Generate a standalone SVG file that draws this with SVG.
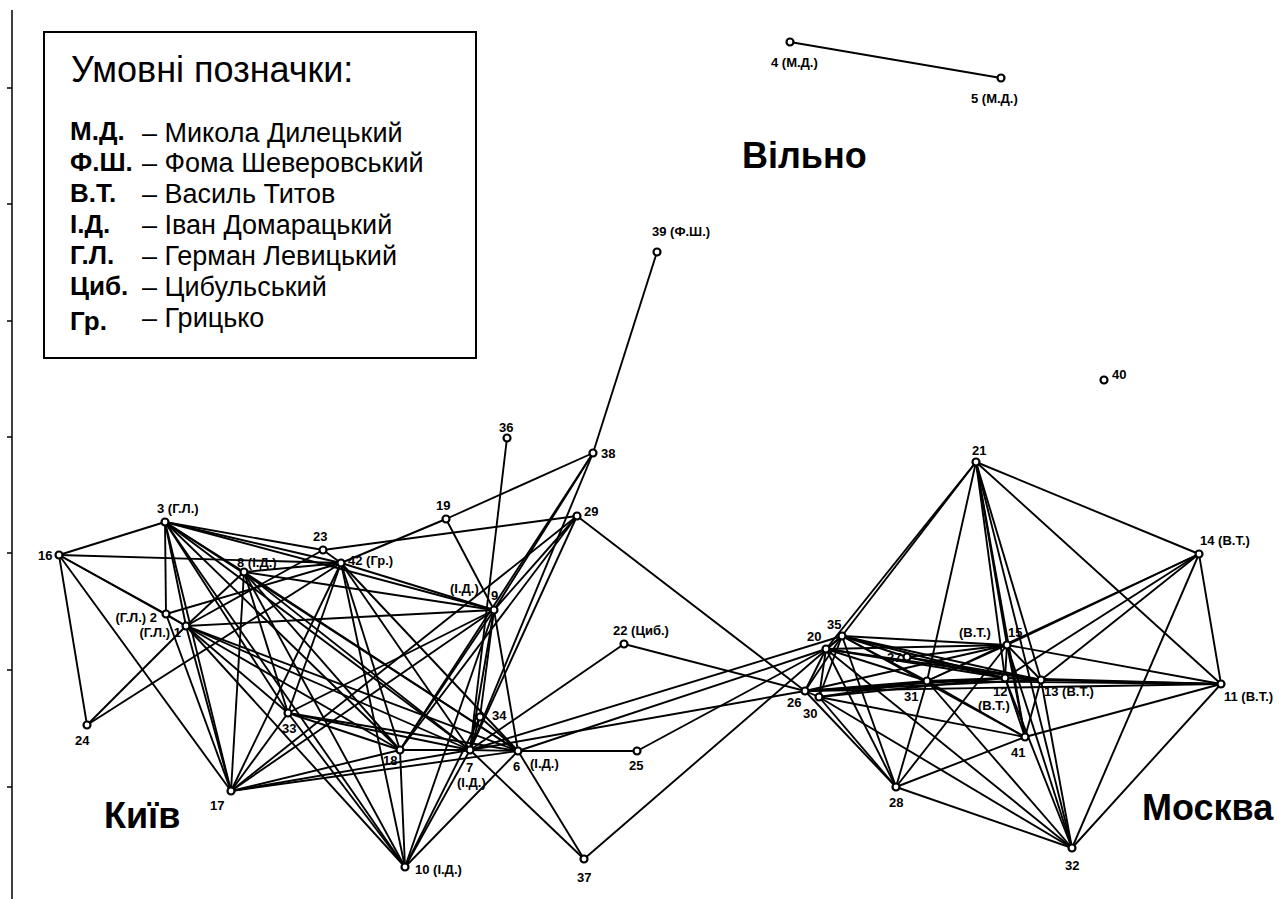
<svg xmlns="http://www.w3.org/2000/svg" width="1279" height="899" viewBox="0 0 1279 899">
<style>
.e line{stroke:#000;stroke-width:1.9;fill:none}
.n{fill:#fff;stroke:#000;stroke-width:2.2}
.l{font-family:"Liberation Sans",Arial,sans-serif;font-weight:bold;font-size:13px;fill:#000}
.city{font-family:"Liberation Sans",Arial,sans-serif;font-weight:bold;font-size:36px;fill:#000}
.lt{font-family:"Liberation Sans",Arial,sans-serif;font-size:27px;fill:#000}
.lb{font-family:"Liberation Sans",Arial,sans-serif;font-size:26px;font-weight:bold;fill:#000}
.ax{stroke:#000;stroke-width:1.5}
</style>
<rect width="1279" height="899" fill="#fff"/>
<g id="axis">
<line class="ax" x1="12" y1="10" x2="12" y2="899"/>
<line class="ax" x1="7" y1="88" x2="12" y2="88"/>
<line class="ax" x1="7" y1="204" x2="12" y2="204"/>
<line class="ax" x1="7" y1="321" x2="12" y2="321"/>
<line class="ax" x1="7" y1="437" x2="12" y2="437"/>
<line class="ax" x1="7" y1="553" x2="12" y2="553"/>
<line class="ax" x1="7" y1="670" x2="12" y2="670"/>
<line class="ax" x1="7" y1="787" x2="12" y2="787"/>
</g>
<g id="legend">
<rect x="44" y="32" width="432" height="326" fill="#fff" stroke="#000" stroke-width="2"/>
<text x="71" y="82" style="font-family:'Liberation Sans',Arial,sans-serif;font-size:36px">Умовні позначки:</text>
<text class="lb" x="70" y="140">М.Д.</text><text class="lt" x="142" y="142">– Микола Дилецький</text>
<text class="lb" x="70" y="171">Ф.Ш.</text><text class="lt" x="142" y="172">– Фома Шеверовський</text>
<text class="lb" x="70" y="202">В.Т.</text><text class="lt" x="142" y="203">– Василь Титов</text>
<text class="lb" x="70" y="233">І.Д.</text><text class="lt" x="142" y="234">– Іван Домарацький</text>
<text class="lb" x="70" y="264">Г.Л.</text><text class="lt" x="142" y="265">– Герман Левицький</text>
<text class="lb" x="70" y="295">Циб.</text><text class="lt" x="142" y="296">– Цибульський</text>
<text class="lb" x="70" y="330">Гр.</text><text class="lt" x="142" y="327">– Грицько</text>
</g>
<g id="cities">
<text class="city" x="742" y="168">Вільно</text>
<text class="city" x="104" y="828">Київ</text>
<text class="city" x="1142" y="820">Москва</text>
</g>
<g id="connectors" class="e">
<line x1="59" y1="555" x2="165" y2="522"/>
<line x1="59" y1="555" x2="341" y2="563"/>
<line x1="59" y1="555" x2="166" y2="614"/>
<line x1="59" y1="555" x2="186" y2="626"/>
<line x1="59" y1="555" x2="231" y2="791"/>
<line x1="59" y1="555" x2="87" y2="725"/>
<line x1="87" y1="725" x2="186" y2="626"/>
<line x1="87" y1="725" x2="341" y2="563"/>
<line x1="165" y1="522" x2="166" y2="614"/>
<line x1="165" y1="522" x2="323" y2="550"/>
<line x1="165" y1="522" x2="341" y2="563"/>
<line x1="165" y1="522" x2="494" y2="610"/>
<line x1="165" y1="522" x2="244" y2="572"/>
<line x1="165" y1="522" x2="186" y2="626"/>
<line x1="165" y1="522" x2="231" y2="791"/>
<line x1="165" y1="522" x2="288" y2="713"/>
<line x1="165" y1="522" x2="400" y2="750"/>
<line x1="165" y1="522" x2="470" y2="750"/>
<line x1="165" y1="522" x2="518" y2="751"/>
<line x1="165" y1="522" x2="405" y2="867"/>
<line x1="166" y1="614" x2="341" y2="563"/>
<line x1="166" y1="614" x2="231" y2="791"/>
<line x1="166" y1="614" x2="186" y2="626"/>
<line x1="186" y1="626" x2="494" y2="610"/>
<line x1="186" y1="626" x2="244" y2="572"/>
<line x1="186" y1="626" x2="323" y2="550"/>
<line x1="186" y1="626" x2="231" y2="791"/>
<line x1="186" y1="626" x2="288" y2="713"/>
<line x1="186" y1="626" x2="400" y2="750"/>
<line x1="186" y1="626" x2="470" y2="750"/>
<line x1="186" y1="626" x2="518" y2="751"/>
<line x1="186" y1="626" x2="405" y2="867"/>
<line x1="244" y1="572" x2="231" y2="791"/>
<line x1="244" y1="572" x2="288" y2="713"/>
<line x1="244" y1="572" x2="400" y2="750"/>
<line x1="244" y1="572" x2="470" y2="750"/>
<line x1="244" y1="572" x2="405" y2="867"/>
<line x1="244" y1="572" x2="518" y2="751"/>
<line x1="244" y1="572" x2="341" y2="563"/>
<line x1="244" y1="572" x2="494" y2="610"/>
<line x1="323" y1="550" x2="341" y2="563"/>
<line x1="323" y1="550" x2="577" y2="516"/>
<line x1="341" y1="563" x2="446" y2="519"/>
<line x1="341" y1="563" x2="494" y2="610"/>
<line x1="341" y1="563" x2="288" y2="713"/>
<line x1="341" y1="563" x2="231" y2="791"/>
<line x1="341" y1="563" x2="400" y2="750"/>
<line x1="341" y1="563" x2="405" y2="867"/>
<line x1="341" y1="563" x2="470" y2="750"/>
<line x1="341" y1="563" x2="518" y2="751"/>
<line x1="446" y1="519" x2="593" y2="453"/>
<line x1="446" y1="519" x2="494" y2="610"/>
<line x1="507" y1="438" x2="470" y2="750"/>
<line x1="494" y1="610" x2="593" y2="453"/>
<line x1="494" y1="610" x2="577" y2="516"/>
<line x1="494" y1="610" x2="470" y2="750"/>
<line x1="494" y1="610" x2="480" y2="717"/>
<line x1="494" y1="610" x2="518" y2="751"/>
<line x1="494" y1="610" x2="400" y2="750"/>
<line x1="494" y1="610" x2="231" y2="791"/>
<line x1="494" y1="610" x2="405" y2="867"/>
<line x1="494" y1="610" x2="288" y2="713"/>
<line x1="577" y1="516" x2="805" y2="691"/>
<line x1="577" y1="516" x2="470" y2="750"/>
<line x1="577" y1="516" x2="400" y2="750"/>
<line x1="577" y1="516" x2="231" y2="791"/>
<line x1="593" y1="453" x2="657" y2="252"/>
<line x1="593" y1="453" x2="470" y2="750"/>
<line x1="593" y1="453" x2="400" y2="750"/>
<line x1="288" y1="713" x2="400" y2="750"/>
<line x1="288" y1="713" x2="470" y2="750"/>
<line x1="288" y1="713" x2="405" y2="867"/>
<line x1="288" y1="713" x2="231" y2="791"/>
<line x1="288" y1="713" x2="518" y2="751"/>
<line x1="400" y1="750" x2="470" y2="750"/>
<line x1="400" y1="750" x2="405" y2="867"/>
<line x1="400" y1="750" x2="231" y2="791"/>
<line x1="470" y1="750" x2="518" y2="751"/>
<line x1="470" y1="750" x2="231" y2="791"/>
<line x1="470" y1="750" x2="405" y2="867"/>
<line x1="470" y1="750" x2="480" y2="717"/>
<line x1="470" y1="750" x2="624" y2="644"/>
<line x1="470" y1="750" x2="584" y2="859"/>
<line x1="470" y1="750" x2="805" y2="691"/>
<line x1="470" y1="750" x2="842" y2="636"/>
<line x1="518" y1="751" x2="637" y2="751"/>
<line x1="518" y1="751" x2="584" y2="859"/>
<line x1="518" y1="751" x2="231" y2="791"/>
<line x1="518" y1="751" x2="405" y2="867"/>
<line x1="518" y1="751" x2="826" y2="649"/>
<line x1="518" y1="751" x2="480" y2="717"/>
<line x1="480" y1="717" x2="405" y2="867"/>
<line x1="624" y1="644" x2="805" y2="691"/>
<line x1="637" y1="751" x2="826" y2="649"/>
<line x1="584" y1="859" x2="842" y2="636"/>
<line x1="790" y1="42" x2="1001" y2="78"/>
<line x1="976" y1="462" x2="842" y2="636"/>
<line x1="976" y1="462" x2="826" y2="649"/>
<line x1="976" y1="462" x2="927" y2="681"/>
<line x1="976" y1="462" x2="1007" y2="645"/>
<line x1="976" y1="462" x2="1005" y2="678"/>
<line x1="976" y1="462" x2="1025" y2="737"/>
<line x1="976" y1="462" x2="1072" y2="848"/>
<line x1="976" y1="462" x2="1041" y2="680"/>
<line x1="976" y1="462" x2="1221" y2="684"/>
<line x1="976" y1="462" x2="1199" y2="554"/>
<line x1="1199" y1="554" x2="1221" y2="684"/>
<line x1="1199" y1="554" x2="1007" y2="645"/>
<line x1="1199" y1="554" x2="1005" y2="678"/>
<line x1="1199" y1="554" x2="1041" y2="680"/>
<line x1="1199" y1="554" x2="1072" y2="848"/>
<line x1="1199" y1="554" x2="927" y2="681"/>
<line x1="1221" y1="684" x2="1007" y2="645"/>
<line x1="1221" y1="684" x2="1041" y2="680"/>
<line x1="1221" y1="684" x2="1005" y2="678"/>
<line x1="1221" y1="684" x2="927" y2="681"/>
<line x1="1221" y1="684" x2="1025" y2="737"/>
<line x1="1221" y1="684" x2="1072" y2="848"/>
<line x1="1221" y1="684" x2="805" y2="691"/>
<line x1="842" y1="636" x2="826" y2="649"/>
<line x1="842" y1="636" x2="805" y2="691"/>
<line x1="842" y1="636" x2="819" y2="697"/>
<line x1="842" y1="636" x2="907" y2="657"/>
<line x1="842" y1="636" x2="927" y2="681"/>
<line x1="842" y1="636" x2="1007" y2="645"/>
<line x1="842" y1="636" x2="1005" y2="678"/>
<line x1="842" y1="636" x2="1041" y2="680"/>
<line x1="842" y1="636" x2="896" y2="787"/>
<line x1="842" y1="636" x2="1025" y2="737"/>
<line x1="826" y1="649" x2="805" y2="691"/>
<line x1="826" y1="649" x2="819" y2="697"/>
<line x1="826" y1="649" x2="927" y2="681"/>
<line x1="826" y1="649" x2="1007" y2="645"/>
<line x1="826" y1="649" x2="1005" y2="678"/>
<line x1="826" y1="649" x2="896" y2="787"/>
<line x1="826" y1="649" x2="1041" y2="680"/>
<line x1="826" y1="649" x2="1072" y2="848"/>
<line x1="805" y1="691" x2="819" y2="697"/>
<line x1="805" y1="691" x2="927" y2="681"/>
<line x1="805" y1="691" x2="1005" y2="678"/>
<line x1="805" y1="691" x2="1041" y2="680"/>
<line x1="805" y1="691" x2="1007" y2="645"/>
<line x1="805" y1="691" x2="896" y2="787"/>
<line x1="819" y1="697" x2="927" y2="681"/>
<line x1="819" y1="697" x2="1005" y2="678"/>
<line x1="819" y1="697" x2="1025" y2="737"/>
<line x1="819" y1="697" x2="896" y2="787"/>
<line x1="819" y1="697" x2="1072" y2="848"/>
<line x1="907" y1="657" x2="1005" y2="678"/>
<line x1="907" y1="657" x2="1041" y2="680"/>
<line x1="907" y1="657" x2="1007" y2="645"/>
<line x1="927" y1="681" x2="896" y2="787"/>
<line x1="927" y1="681" x2="1025" y2="737"/>
<line x1="927" y1="681" x2="1072" y2="848"/>
<line x1="927" y1="681" x2="1007" y2="645"/>
<line x1="927" y1="681" x2="1005" y2="678"/>
<line x1="1007" y1="645" x2="1005" y2="678"/>
<line x1="1007" y1="645" x2="1041" y2="680"/>
<line x1="1007" y1="645" x2="1025" y2="737"/>
<line x1="1007" y1="645" x2="1072" y2="848"/>
<line x1="1007" y1="645" x2="896" y2="787"/>
<line x1="1005" y1="678" x2="1041" y2="680"/>
<line x1="1005" y1="678" x2="1072" y2="848"/>
<line x1="1005" y1="678" x2="1025" y2="737"/>
<line x1="1041" y1="680" x2="1072" y2="848"/>
<line x1="1041" y1="680" x2="1025" y2="737"/>
<line x1="1025" y1="737" x2="896" y2="787"/>
<line x1="896" y1="787" x2="1072" y2="848"/>
</g>
<g id="n1"><circle class="n" cx="186" cy="626" r="3.5"/><text class="l" x="181" y="637" text-anchor="end">(Г.Л.) 1</text></g>
<g id="n2"><circle class="n" cx="166" cy="614" r="3.5"/><text class="l" x="157" y="622" text-anchor="end">(Г.Л.) 2</text></g>
<g id="n3"><circle class="n" cx="165" cy="522" r="3.5"/><text class="l" x="157" y="513">3 (Г.Л.)</text></g>
<g id="n4"><circle class="n" cx="790" cy="42" r="3.5"/><text class="l" x="771" y="67">4 (М.Д.)</text></g>
<g id="n5"><circle class="n" cx="1001" cy="78" r="3.5"/><text class="l" x="971" y="103">5 (М.Д.)</text></g>
<g id="n6"><circle class="n" cx="518" cy="751" r="3.5"/><text class="l" x="513" y="771">6</text><text class="l" x="530" y="768">(І.Д.)</text></g>
<g id="n7"><circle class="n" cx="470" cy="750" r="3.5"/><text class="l" x="466" y="772">7</text><text class="l" x="457" y="787">(І.Д.)</text></g>
<g id="n8"><circle class="n" cx="244" cy="572" r="3.5"/><text class="l" x="237" y="567">8 (І.Д.)</text></g>
<g id="n9"><circle class="n" cx="494" cy="610" r="3.5"/><text class="l" x="491" y="600">9</text><text class="l" x="450" y="593">(І.Д.)</text></g>
<g id="n10"><circle class="n" cx="405" cy="867" r="3.5"/><text class="l" x="415" y="874">10 (І.Д.)</text></g>
<g id="n11"><circle class="n" cx="1221" cy="684" r="3.5"/><text class="l" x="1224" y="701">11 (В.Т.)</text></g>
<g id="n12"><circle class="n" cx="1005" cy="678" r="3.5"/><text class="l" x="993" y="696">12</text><text class="l" x="978" y="710">(В.Т.)</text></g>
<g id="n13"><circle class="n" cx="1041" cy="680" r="3.5"/><text class="l" x="1044" y="696">13 (В.Т.)</text></g>
<g id="n14"><circle class="n" cx="1199" cy="554" r="3.5"/><text class="l" x="1200" y="545">14 (В.Т.)</text></g>
<g id="n15"><circle class="n" cx="1007" cy="645" r="3.5"/><text class="l" x="959" y="637">(В.Т.)</text><text class="l" x="1008" y="637">15</text></g>
<g id="n16"><circle class="n" cx="59" cy="555" r="3.5"/><text class="l" x="38" y="560">16</text></g>
<g id="n17"><circle class="n" cx="231" cy="791" r="3.5"/><text class="l" x="210" y="810">17</text></g>
<g id="n18"><circle class="n" cx="400" cy="750" r="3.5"/><text class="l" x="383" y="765">18</text></g>
<g id="n19"><circle class="n" cx="446" cy="519" r="3.5"/><text class="l" x="436" y="510">19</text></g>
<g id="n20"><circle class="n" cx="826" cy="649" r="3.5"/><text class="l" x="807" y="641">20</text></g>
<g id="n21"><circle class="n" cx="976" cy="462" r="3.5"/><text class="l" x="972" y="455">21</text></g>
<g id="n22"><circle class="n" cx="624" cy="644" r="3.5"/><text class="l" x="613" y="635">22 (Циб.)</text></g>
<g id="n23"><circle class="n" cx="323" cy="550" r="3.5"/><text class="l" x="313" y="541">23</text></g>
<g id="n24"><circle class="n" cx="87" cy="725" r="3.5"/><text class="l" x="75" y="745">24</text></g>
<g id="n25"><circle class="n" cx="637" cy="751" r="3.5"/><text class="l" x="629" y="770">25</text></g>
<g id="n26"><circle class="n" cx="805" cy="691" r="3.5"/><text class="l" x="787" y="707">26</text></g>
<g id="n27"><circle class="n" cx="907" cy="657" r="3.5"/><text class="l" x="887" y="662">27</text></g>
<g id="n28"><circle class="n" cx="896" cy="787" r="3.5"/><text class="l" x="889" y="807">28</text></g>
<g id="n29"><circle class="n" cx="577" cy="516" r="3.5"/><text class="l" x="584" y="516">29</text></g>
<g id="n30"><circle class="n" cx="819" cy="697" r="3.5"/><text class="l" x="803" y="718">30</text></g>
<g id="n31"><circle class="n" cx="927" cy="681" r="3.5"/><text class="l" x="904" y="701">31</text></g>
<g id="n32"><circle class="n" cx="1072" cy="848" r="3.5"/><text class="l" x="1065" y="870">32</text></g>
<g id="n33"><circle class="n" cx="288" cy="713" r="3.5"/><text class="l" x="282" y="733">33</text></g>
<g id="n34"><circle class="n" cx="480" cy="717" r="3.5"/><text class="l" x="492" y="720">34</text></g>
<g id="n35"><circle class="n" cx="842" cy="636" r="3.5"/><text class="l" x="827" y="629">35</text></g>
<g id="n36"><circle class="n" cx="507" cy="438" r="3.5"/><text class="l" x="499" y="432">36</text></g>
<g id="n37"><circle class="n" cx="584" cy="859" r="3.5"/><text class="l" x="577" y="882">37</text></g>
<g id="n38"><circle class="n" cx="593" cy="453" r="3.5"/><text class="l" x="601" y="458">38</text></g>
<g id="n39"><circle class="n" cx="657" cy="252" r="3.5"/><text class="l" x="652" y="236">39 (Ф.Ш.)</text></g>
<g id="n40"><circle class="n" cx="1104" cy="380" r="3.5"/><text class="l" x="1112" y="379">40</text></g>
<g id="n41"><circle class="n" cx="1025" cy="737" r="3.5"/><text class="l" x="1011" y="757">41</text></g>
<g id="n42"><circle class="n" cx="341" cy="563" r="3.5"/><text class="l" x="348" y="565">42 (Гр.)</text></g>
</svg>
